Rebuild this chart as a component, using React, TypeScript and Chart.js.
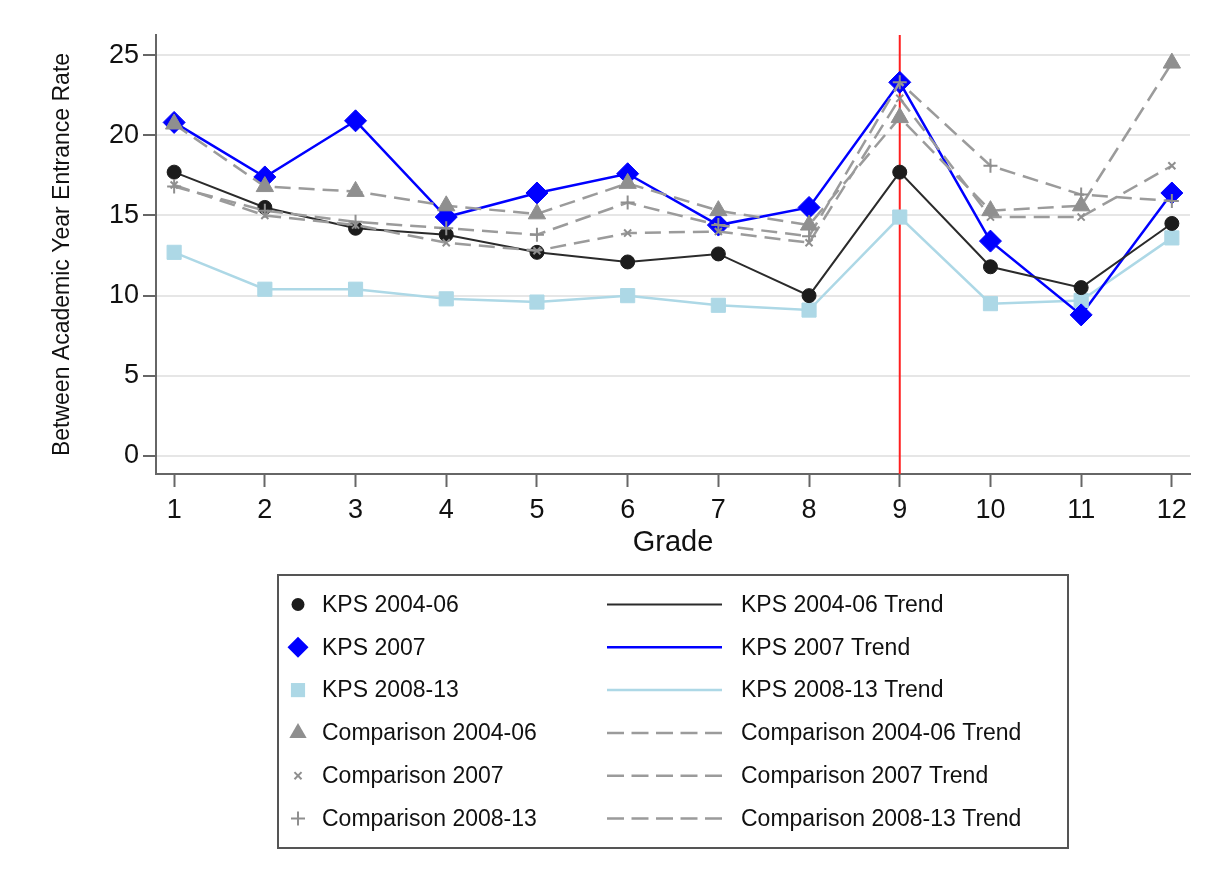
import React, { useEffect, useRef } from 'react';
import { Chart, registerables } from 'chart.js';

Chart.register(...registerables);

// ---------- data ----------
const grades = [1, 2, 3, 4, 5, 6, 7, 8, 9, 10, 11, 12];
const yTickValues = [0, 5, 10, 15, 20, 25];
const cutoffGrade = 9;

const kps0406 = [17.7, 15.5, 14.2, 13.8, 12.7, 12.1, 12.6, 10.0, 17.7, 11.8, 10.5, 14.5];
const kps2007 = [20.8, 17.4, 20.9, 14.9, 16.4, 17.6, 14.4, 15.5, 23.3, 13.4, 8.8, 16.4];
const kps0813 = [12.7, 10.4, 10.4, 9.8, 9.6, 10.0, 9.4, 9.1, 14.9, 9.5, 9.7, 13.6];
const comp0406 = [20.7, 16.8, 16.5, 15.6, 15.1, 17.0, 15.3, 14.4, 21.1, 15.3, 15.6, 24.5];
const comp2007 = [16.9, 15.0, 14.4, 13.3, 12.8, 13.9, 14.0, 13.3, 22.3, 14.9, 14.9, 18.1];
const comp0813 = [16.8, 15.3, 14.6, 14.2, 13.8, 15.8, 14.4, 13.7, 23.3, 18.1, 16.3, 15.9];

const seriesLabels = [
  'KPS 2004-06',
  'KPS 2007',
  'KPS 2008-13',
  'Comparison 2004-06',
  'Comparison 2007',
  'Comparison 2008-13',
];
const trendLabels = [
  'KPS 2004-06 Trend',
  'KPS 2007 Trend',
  'KPS 2008-13 Trend',
  'Comparison 2004-06 Trend',
  'Comparison 2007 Trend',
  'Comparison 2008-13 Trend',
];
const xTitle = 'Grade';
const yTitle = 'Between Academic Year Entrance Rate';

// ---------- styles ----------
const FONT = "'Liberation Sans', Arial, Helvetica, sans-serif";
const GRAY_M = '#8f8f8f';
const GRAY_L = '#9b9b9b';
const DASH = [16, 8];

const styles = [
  { color: '#1c1c1c', line: '#2b2b2b', lw: 2, dash: [] as number[], point: 'circle', r: 7, lr: 6.5, bw: 1 },
  { color: '#0000ff', line: '#0000ff', lw: 2.5, dash: [] as number[], point: 'rectRot', r: 11, lr: 10.5, bw: 1 },
  { color: '#add8e6', line: '#add8e6', lw: 2.5, dash: [] as number[], point: 'rect', r: 10, lr: 10, bw: 1 },
  { color: GRAY_M, line: GRAY_L, lw: 2.5, dash: DASH, point: 'triangle', r: 10, lr: 10, bw: 1 },
  { color: GRAY_M, line: GRAY_L, lw: 2.5, dash: DASH, point: 'crossRot', r: 5, lr: 5, bw: 2 },
  { color: GRAY_M, line: GRAY_L, lw: 2.5, dash: DASH, point: 'cross', r: 7, lr: 7, bw: 2 },
];

const seriesData = [kps0406, kps2007, kps0813, comp0406, comp2007, comp0813];
const toPoints = (vals: number[]) => grades.map((g, i) => ({ x: g, y: vals[i] }));

function drawMarker(ctx: CanvasRenderingContext2D, style: string, x: number, y: number, r: number, color: string, bw: number) {
  ctx.save();
  ctx.fillStyle = color;
  ctx.strokeStyle = color;
  ctx.lineWidth = bw;
  ctx.beginPath();
  if (style === 'circle') {
    ctx.arc(x, y, r, 0, Math.PI * 2);
    ctx.fill();
  } else if (style === 'rectRot') {
    ctx.moveTo(x - r, y);
    ctx.lineTo(x, y - r);
    ctx.lineTo(x + r, y);
    ctx.lineTo(x, y + r);
    ctx.closePath();
    ctx.fill();
  } else if (style === 'rect') {
    const s = Math.SQRT1_2 * r;
    ctx.rect(x - s, y - s, 2 * s, 2 * s);
    ctx.fill();
  } else if (style === 'triangle') {
    const a = (2 * Math.PI) / 3;
    ctx.moveTo(x, y - r);
    ctx.lineTo(x + Math.sin(a) * r, y - Math.cos(a) * r);
    ctx.lineTo(x + Math.sin(2 * a) * r, y - Math.cos(2 * a) * r);
    ctx.closePath();
    ctx.fill();
  } else if (style === 'crossRot') {
    const o = Math.SQRT1_2 * r;
    ctx.moveTo(x - o, y - o);
    ctx.lineTo(x + o, y + o);
    ctx.moveTo(x - o, y + o);
    ctx.lineTo(x + o, y - o);
    ctx.stroke();
  } else if (style === 'cross') {
    ctx.moveTo(x, y - r);
    ctx.lineTo(x, y + r);
    ctx.moveTo(x - r, y);
    ctx.lineTo(x + r, y);
    ctx.stroke();
  }
  ctx.restore();
}

const overlayPlugin = {
  id: 'overlay',
  beforeDatasetsDraw(chart: any) {
    const { ctx, chartArea, scales } = chart;
    const x = scales.x.getPixelForValue(cutoffGrade);
    ctx.save();
    ctx.strokeStyle = '#ff1f1f';
    ctx.lineWidth = 2;
    ctx.beginPath();
    ctx.moveTo(x, chartArea.top);
    ctx.lineTo(x, chartArea.bottom);
    ctx.stroke();
    ctx.restore();
  },
  afterDraw(chart: any) {
    const { ctx, chartArea } = chart;
    ctx.save();
    ctx.fillStyle = '#111';
    // axis titles
    ctx.font = `29px ${FONT}`;
    ctx.textAlign = 'center';
    ctx.textBaseline = 'middle';
    ctx.fillText(xTitle, (chartArea.left + chartArea.right) / 2, 543);
    ctx.save();
    ctx.translate(63, (chartArea.top + chartArea.bottom) / 2);
    ctx.rotate(-Math.PI / 2);
    ctx.font = `23px ${FONT}`;
    ctx.fillText(yTitle, 0, 0);
    ctx.restore();

    // legend box
    const bx = 278, by = 575, bw = 790, bh = 273;
    ctx.fillStyle = '#ffffff';
    ctx.fillRect(bx, by, bw, bh);
    ctx.strokeStyle = '#555';
    ctx.lineWidth = 2;
    ctx.strokeRect(bx, by, bw, bh);

    const rowY0 = 604.5;
    const rowGap = 42.8;
    ctx.font = `23px ${FONT}`;
    ctx.textAlign = 'left';
    ctx.textBaseline = 'middle';
    for (let i = 0; i < 6; i++) {
      const y = rowY0 + i * rowGap;
      const st = styles[i];
      drawMarker(ctx, st.point, 298, y, st.lr, st.color, st.bw);
      ctx.fillStyle = '#111';
      ctx.fillText(seriesLabels[i], 322, y + 1);
      ctx.save();
      ctx.strokeStyle = st.line;
      ctx.lineWidth = st.lw;
      ctx.setLineDash(st.dash.length ? [17, 7.5] : []);
      ctx.beginPath();
      ctx.moveTo(607, y);
      ctx.lineTo(722, y);
      ctx.stroke();
      ctx.restore();
      ctx.fillStyle = '#111';
      ctx.fillText(trendLabels[i], 741, y + 1);
    }
    ctx.restore();
  },
};

export default function App() {
  const canvasRef = useRef<HTMLCanvasElement | null>(null);

  useEffect(() => {
    if (!canvasRef.current) return;
    const lineSets = seriesData.map((vals, i) => ({
      label: trendLabels[i],
      data: toPoints(vals),
      showLine: true,
      borderColor: styles[i].line,
      backgroundColor: styles[i].line,
      borderWidth: styles[i].lw,
      borderDash: styles[i].dash,
      pointRadius: 0,
      pointHoverRadius: 0,
      tension: 0,
      order: i < 3 ? 40 : 20,
      clip: false,
    }));
    const pointSets = seriesData.map((vals, i) => ({
      label: seriesLabels[i],
      data: toPoints(vals),
      showLine: false,
      pointStyle: styles[i].point,
      pointRadius: styles[i].r,
      pointHoverRadius: styles[i].r,
      pointBackgroundColor: styles[i].color,
      pointBorderColor: styles[i].color,
      pointBorderWidth: styles[i].bw,
      borderColor: styles[i].color,
      backgroundColor: styles[i].color,
      order: i < 3 ? 30 : 10,
      clip: false,
    }));

    const chart = new Chart(canvasRef.current, {
      type: 'scatter',
      data: { datasets: [...lineSets, ...pointSets] as any },
      options: {
        responsive: false,
        animation: false,
        events: [],
        layout: { padding: { top: 35, right: 27, bottom: 0, left: 0 } },
        plugins: {
          legend: { display: false },
          tooltip: { enabled: false },
        },
        scales: {
          x: {
            type: 'linear',
            min: 0.8,
            max: 12.2,
            afterBuildTicks: (s: any) => {
              s.ticks = grades.map((v) => ({ value: v }));
            },
            afterFit: (s: any) => {
              s.height = 412;
            },
            grid: {
              drawOnChartArea: false,
              drawTicks: true,
              tickLength: 13,
              tickColor: '#666',
              tickWidth: 2,
            },
            border: { display: true, color: '#666', width: 2 },
            ticks: {
              font: { family: FONT, size: 27 },
              color: '#111',
              padding: 7,
              maxRotation: 0,
              autoSkip: false,
            },
          },
          y: {
            type: 'linear',
            min: -1.12,
            max: 26.25,
            afterBuildTicks: (s: any) => {
              s.ticks = yTickValues.map((v) => ({ value: v }));
            },
            afterFit: (s: any) => {
              s.width = 156;
            },
            grid: {
              color: '#e6e6e6',
              lineWidth: 2,
              drawTicks: true,
              tickLength: 13,
              tickColor: '#666',
              tickWidth: 2,
            },
            border: { display: true, color: '#666', width: 2 },
            ticks: {
              font: { family: FONT, size: 27 },
              color: '#111',
              padding: 4,
              autoSkip: false,
            },
          },
        },
      } as any,
      plugins: [overlayPlugin],
    });
    return () => chart.destroy();
  }, []);

  return (
    <div style={{ position: 'absolute', left: 0, top: 0, width: 1217, height: 886, background: '#fff' }}>
      <canvas ref={canvasRef} width={1217} height={886} style={{ display: 'block' }} />
    </div>
  );
}
